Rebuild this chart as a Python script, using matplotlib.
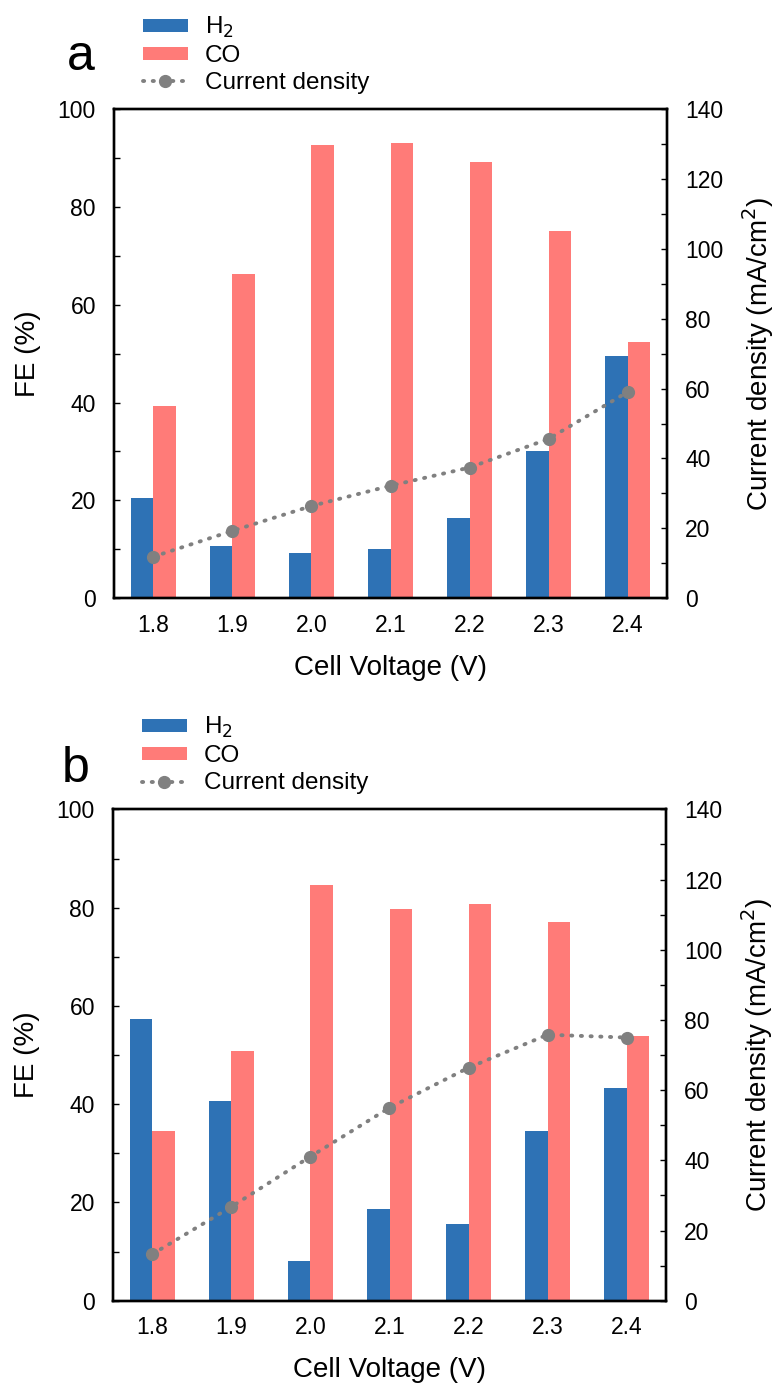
import numpy as np
import matplotlib.pyplot as plt
from matplotlib.ticker import MultipleLocator

plt.rcParams['font.family'] = ['Liberation Sans', 'DejaVu Sans']

voltages = ["1.8", "1.9", "2.0", "2.1", "2.2", "2.3", "2.4"]

# panel a
h2_a = [20.4, 10.6, 9.2, 10.1, 16.4, 30.1, 49.5]
co_a = [39.2, 66.3, 92.7, 93.0, 89.2, 75.1, 52.3]
cd_a = [11.9, 19.3, 26.4, 32.2, 37.4, 45.6, 59.0]

# panel b
h2_b = [57.3, 40.7, 8.1, 18.6, 15.6, 34.6, 43.2]
co_b = [34.6, 50.9, 84.7, 79.8, 80.7, 77.1, 53.8]
cd_b = [13.3, 26.8, 41.1, 55.0, 66.4, 75.8, 75.0]

blue = "#2e72b5"
red = "#ff7b78"
grey = "#808080"


def panel(ax, h2, co, cd, letter, lx, ly):
    x = np.arange(len(voltages))
    w = 0.285
    b1 = ax.bar(x - w/2, h2, w, color=blue)
    b2 = ax.bar(x + w/2, co, w, color=red)
    ax.set_xlim(-0.5, 6.5)
    ax.set_ylim(0, 100)
    ax.set_xticks(x)
    ax.set_xticklabels(voltages)
    ax.yaxis.set_major_locator(MultipleLocator(20))
    ax.yaxis.set_minor_locator(MultipleLocator(10))
    ax.tick_params(axis='x', length=0, labelsize=16.5, pad=11)
    ax.tick_params(axis='y', which='both', direction='in', length=4, width=1,
                   labelsize=16.5, pad=13)
    ax.set_xlabel("Cell Voltage (V)", fontsize=20, labelpad=13)
    ax.set_ylabel("FE (%)", fontsize=20, labelpad=12)
    for s in ax.spines.values():
        s.set_linewidth(1.7)

    ax2 = ax.twinx()
    ln, = ax2.plot(x, cd, color=grey, linestyle=(0, (0.3, 2.2)), lw=2.8,
                   dash_capstyle='round', marker='o', markersize=8.5,
                   label="Current density")
    ax2.set_ylim(0, 140)
    ax2.yaxis.set_major_locator(MultipleLocator(20))
    ax2.yaxis.set_minor_locator(MultipleLocator(10))
    ax2.tick_params(axis='y', which='both', direction='in', length=4, width=1,
                    labelsize=16.5, pad=13)
    ax2.set_ylabel("Current density (mA/cm$^2$)", fontsize=20, labelpad=12)
    for s in ax2.spines.values():
        s.set_linewidth(1.7)

    ax.legend([b1, b2, ln], ["H$_2$", "CO", "Current density"],
              loc='lower left', bbox_to_anchor=(0.052, 1.031), frameon=False,
              fontsize=17.5, handlelength=1.85, handleheight=0.45,
              labelspacing=0.2, borderpad=0, borderaxespad=0,
              handletextpad=0.7)
    ax.figure.text(lx, ly, letter, fontsize=36, ha='center', va='baseline')


fig = plt.figure(figsize=(7.79, 13.9), dpi=100)
ax_a = fig.add_axes([0.1463, 0.5696, 0.710, 0.352])
ax_b = fig.add_axes([0.1450, 0.0642, 0.710, 0.3535])

panel(ax_a, h2_a, co_a, cd_a, "a", 0.1033, 1 - 70 / 1390)
panel(ax_b, h2_b, co_b, cd_b, "b", 0.0969, 1 - 782 / 1390)

fig.savefig("out.png", dpi=100)
